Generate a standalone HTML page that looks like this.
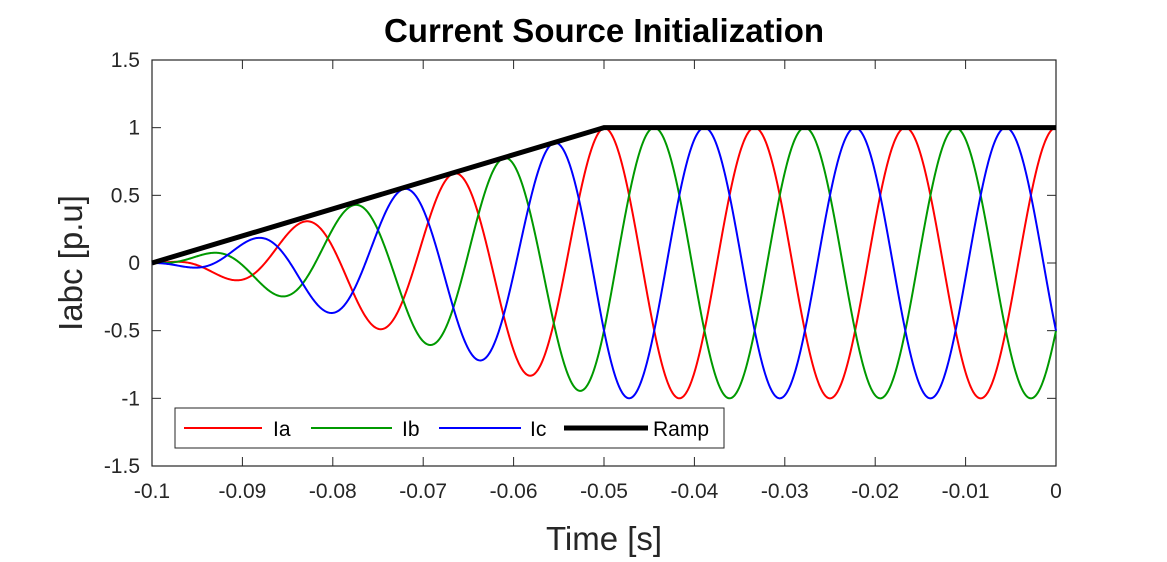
<!DOCTYPE html>
<html><head><meta charset="utf-8"><style>
body{margin:0;background:#fff;}
svg{display:block;font-family:"Liberation Sans",sans-serif;}
</style></head><body>
<svg id="chart" width="1167" height="562">
<rect width="1167" height="562" fill="#fff"/>
<text x="604" y="42" text-anchor="middle" font-size="33" font-weight="bold">Current Source Initialization</text>
<g id="grid"></g>
<g id="series"></g>
<text x="604" y="550" text-anchor="middle" font-size="33" fill="#262626">Time [s]</text>
<text transform="translate(82,263) rotate(-90)" text-anchor="middle" font-size="33" fill="#262626">Iabc [p.u]</text>
<g>
<rect x="175" y="408" width="549" height="40" fill="#fff" stroke="#262626" stroke-width="1"/>
<g><line x1="184" y1="428" x2="262" y2="428" stroke="#ff0000" stroke-width="2"/><text x="273" y="436" font-size="21" fill="#000">Ia</text></g>
<g><line x1="311" y1="428" x2="392" y2="428" stroke="#009900" stroke-width="2"/><text x="402" y="436" font-size="21" fill="#000">Ib</text></g>
<g><line x1="439" y1="428" x2="521" y2="428" stroke="#0000ff" stroke-width="2"/><text x="530" y="436" font-size="21" fill="#000">Ic</text></g>
<g><line x1="564" y1="428" x2="648" y2="428" stroke="#000" stroke-width="5"/><text x="653" y="436" font-size="21" fill="#000">Ramp</text></g>
</g>
</svg>
<script>
const xTicks=[-0.1,-0.09,-0.08,-0.07,-0.06,-0.05,-0.04,-0.03,-0.02,-0.01,0];
const xTickLabels=["-0.1","-0.09","-0.08","-0.07","-0.06","-0.05","-0.04","-0.03","-0.02","-0.01","0"];
const yTicks=[1.5,1,0.5,0,-0.5,-1,-1.5];
const yTickLabels=["1.5","1","0.5","0","-0.5","-1","-1.5"];
const rampTimes=[-0.1,-0.05,0];
const rampValues=[0,1,1];
const frequencyHz=[60];
const phaseDeg=[0,-120,120];
const lagTau=[0.007];
const seriesNames=["ia","ib","ic"];
const seriesColors=["#ff0000","#009900","#0000ff"];

const X0=152,X1=1056,Y0=60,Y1=466;
const xs=t=>X0+(t+0.1)/0.1*(X1-X0);
const ys=v=>Y1-(v+1.5)/3*(Y1-Y0);
const NS="http://www.w3.org/2000/svg";
const grid=document.getElementById('grid'),ser=document.getElementById('series');
function mk(tag,attrs,parent){const e=document.createElementNS(NS,tag);for(const k in attrs)e.setAttribute(k,attrs[k]);parent.appendChild(e);return e;}
const frame=mk('rect',{x:X0,y:Y0,width:X1-X0,height:Y1-Y0,fill:'none',stroke:'#262626','stroke-width':1.2},grid);


xTicks.forEach((t,i)=>{const x=xs(t);
mk('line',{x1:x,y1:Y1,x2:x,y2:Y1-9,stroke:'#262626'},grid);
mk('line',{x1:x,y1:Y0,x2:x,y2:Y0+9,stroke:'#262626'},grid);
const tx=mk('text',{x:x,y:Y1+32,'text-anchor':'middle','font-size':21,fill:'#262626'},grid);tx.textContent=xTickLabels[i];

});
yTicks.forEach((v,i)=>{const y=ys(v);
mk('line',{x1:X0,y1:y,x2:X0+9,y2:y,stroke:'#262626'},grid);
mk('line',{x1:X1,y1:y,x2:X1-9,y2:y,stroke:'#262626'},grid);
const tx=mk('text',{x:X0-12,y:y+7,'text-anchor':'end','font-size':21,fill:'#262626'},grid);tx.textContent=yTickLabels[i];

});
function ramp(t){for(let i=0;i<rampTimes.length-1;i++){if(t<=rampTimes[i+1]){const f=(t-rampTimes[i])/(rampTimes[i+1]-rampTimes[i]);return rampValues[i]+f*(rampValues[i+1]-rampValues[i]);}}return rampValues[rampValues.length-1];}
const N=1200;
phaseDeg.forEach((p,k)=>{let d='';for(let i=0;i<=N;i++){const t=-0.1+0.1*i/N;const env=ramp(t)*(1-Math.exp(-(t-rampTimes[0])/lagTau[0]));const v=env*Math.cos(2*Math.PI*frequencyHz[0]*t+p*Math.PI/180);d+=(i?'L':'M')+xs(t).toFixed(2)+','+ys(v).toFixed(2);}
const pa=mk('path',{d:d,fill:'none',stroke:seriesColors[k],'stroke-width':2},ser);

});
const rp=mk('polyline',{points:rampTimes.map((t,i)=>xs(t)+','+ys(rampValues[i])).join(' '),fill:'none',stroke:'#000','stroke-width':5},ser);


</script>
</body></html>
